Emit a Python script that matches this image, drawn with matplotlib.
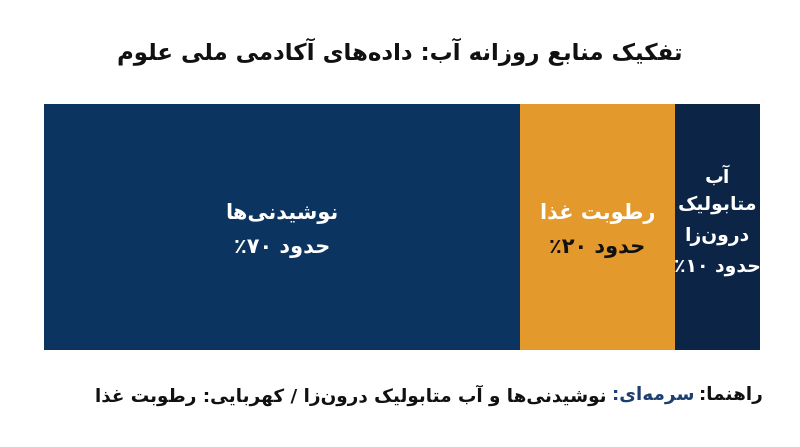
import matplotlib
matplotlib.use('Agg')
import matplotlib.pyplot as plt
import numpy as np

# ---------------- data ----------------
categories = ['نوشیدنی‌ها', 'رطوبت غذا', 'آب متابولیک درون‌زا']
shares = [66.5, 21.6, 11.9]
share_labels = ['حدود ۷۰٪', 'حدود ۲۰٪', 'حدود ۱۰٪']
colors = ['#0c3460', '#e3992b', '#0c2546']
name_colors = ['white', 'white', 'white']
share_colors = ['white', '#111111', 'white']
title = 'تفکیک منابع روزانه آب: داده‌های آکادمی ملی علوم'
legend_parts = [('راهنما:', '#111111'), ('سرمه‌ای:', '#1d3f70'),
                ('نوشیدنی‌ها و آب متابولیک درون‌زا / کهربایی: رطوبت غذا', '#111111')]

# ---------------- minimal Arabic/Persian shaping ----------------
FORMS = {
    '\u0622': ('\uFE81', '\uFE82', None, None),
    '\u0627': ('\uFE8D', '\uFE8E', None, None),
    '\u0628': ('\uFE8F', '\uFE90', '\uFE91', '\uFE92'),
    '\u067E': ('\uFB56', '\uFB57', '\uFB58', '\uFB59'),
    '\u062A': ('\uFE95', '\uFE96', '\uFE97', '\uFE98'),
    '\u062B': ('\uFE99', '\uFE9A', '\uFE9B', '\uFE9C'),
    '\u062C': ('\uFE9D', '\uFE9E', '\uFE9F', '\uFEA0'),
    '\u0686': ('\uFB7A', '\uFB7B', '\uFB7C', '\uFB7D'),
    '\u062D': ('\uFEA1', '\uFEA2', '\uFEA3', '\uFEA4'),
    '\u062E': ('\uFEA5', '\uFEA6', '\uFEA7', '\uFEA8'),
    '\u062F': ('\uFEA9', '\uFEAA', None, None),
    '\u0630': ('\uFEAB', '\uFEAC', None, None),
    '\u0631': ('\uFEAD', '\uFEAE', None, None),
    '\u0632': ('\uFEAF', '\uFEB0', None, None),
    '\u0698': ('\uFB8A', '\uFB8B', None, None),
    '\u0633': ('\uFEB1', '\uFEB2', '\uFEB3', '\uFEB4'),
    '\u0634': ('\uFEB5', '\uFEB6', '\uFEB7', '\uFEB8'),
    '\u0635': ('\uFEB9', '\uFEBA', '\uFEBB', '\uFEBC'),
    '\u0636': ('\uFEBD', '\uFEBE', '\uFEBF', '\uFEC0'),
    '\u0637': ('\uFEC1', '\uFEC2', '\uFEC3', '\uFEC4'),
    '\u0638': ('\uFEC5', '\uFEC6', '\uFEC7', '\uFEC8'),
    '\u0639': ('\uFEC9', '\uFECA', '\uFECB', '\uFECC'),
    '\u063A': ('\uFECD', '\uFECE', '\uFECF', '\uFED0'),
    '\u0641': ('\uFED1', '\uFED2', '\uFED3', '\uFED4'),
    '\u0642': ('\uFED5', '\uFED6', '\uFED7', '\uFED8'),
    '\u06A9': ('\uFB8E', '\uFB8F', '\uFB90', '\uFB91'),
    '\u06AF': ('\uFB92', '\uFB93', '\uFB94', '\uFB95'),
    '\u0644': ('\uFEDD', '\uFEDE', '\uFEDF', '\uFEE0'),
    '\u0645': ('\uFEE1', '\uFEE2', '\uFEE3', '\uFEE4'),
    '\u0646': ('\uFEE5', '\uFEE6', '\uFEE7', '\uFEE8'),
    '\u0648': ('\uFEED', '\uFEEE', None, None),
    '\u0647': ('\uFEE9', '\uFEEA', '\uFEEB', '\uFEEC'),
    '\u06CC': ('\uFBFC', '\uFBFD', '\uFBFE', '\uFBFF'),
    '\u064A': ('\uFEF1', '\uFEF2', '\uFEF3', '\uFEF4'),
}
DIGITS = set('0123456789\u06F0\u06F1\u06F2\u06F3\u06F4\u06F5\u06F6\u06F7\u06F8\u06F9')


def shape(text):
    ch = list(text)
    out = []
    for i, c in enumerate(ch):
        if c not in FORMS:
            if c != '\u200c':
                out.append(c)
            continue
        prev = ch[i - 1] if i > 0 else None
        nxt = ch[i + 1] if i + 1 < len(ch) else None
        jp = prev in FORMS and FORMS[prev][2] is not None
        jn = nxt in FORMS and FORMS[c][2] is not None
        iso, fin, ini, med = FORMS[c]
        if jp and jn:
            out.append(med)
        elif jp:
            out.append(fin)
        elif jn:
            out.append(ini)
        else:
            out.append(iso)
    return ''.join(out)


def visual(text):
    s = shape(text)
    runs = []
    for c in s:
        isd = c in DIGITS
        if runs and runs[-1][0] == isd:
            runs[-1][1].append(c)
        else:
            runs.append([isd, [c]])
    res = []
    for isd, cs in reversed(runs):
        res.append(''.join(cs) if isd else ''.join(reversed(cs)))
    return ''.join(res)


plt.rcParams['font.family'] = ['DejaVu Sans']

fig = plt.figure(figsize=(8.0, 4.47), dpi=100)
fig.patch.set_facecolor('white')
ax = fig.add_axes([44 / 800, 1 - 350 / 447, (760 - 44) / 800, (350 - 104) / 447])

lefts = np.concatenate([[0], np.cumsum(shares)[:-1]])
ax.barh([0], shares, left=lefts, height=1.0, color=colors, edgecolor='none')
ax.set_xlim(0, sum(shares))
ax.set_ylim(-0.5, 0.5)
ax.axis('off')

# labels inside segments
wraps = [[categories[0]], [categories[1]], ['آب', 'متابولیک', 'درون‌زا']]
for i in range(3):
    xc = lefts[i] + shares[i] / 2
    lines = wraps[i]
    if i < 2:
        ax.text(xc, 0.055, visual(lines[0]), ha='center', va='center', color=name_colors[i],
                fontsize=15, fontweight='bold')
        ax.text(xc, -0.085, visual(share_labels[i]), ha='center', va='center', color=share_colors[i],
                fontsize=15, fontweight='bold')
    else:
        ys = [0.205, 0.09, -0.04, -0.16]
        allines = lines + [share_labels[i]]
        for y, ln in zip(ys, allines):
            ax.text(xc, y, visual(ln), ha='center', va='center', color=share_colors[i],
                    fontsize=13.5, fontweight='bold')

fig.text(0.5, 1 - 52 / 447, visual(title), ha='center', va='center', color='#111111',
         fontsize=16.5, fontweight='bold')

# legend line, right-to-left pieces
fig.canvas.draw()
r = fig.canvas.get_renderer()
x = 763 / 800
y = 1 - 395 / 447
gap = 5 / 800
for txt, col in legend_parts:
    t = fig.text(x, y, visual(txt), ha='right', va='center', color=col, fontsize=13.2, fontweight='bold')
    bb = t.get_window_extent(renderer=r)
    x = bb.x0 / fig.bbox.width - gap

fig.savefig('out.png', dpi=100, facecolor='white')
